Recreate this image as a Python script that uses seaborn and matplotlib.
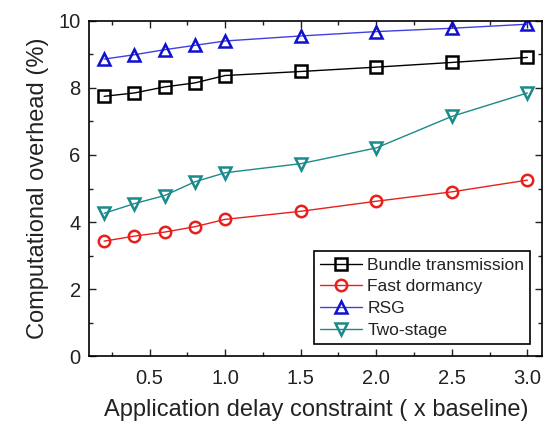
import matplotlib
matplotlib.use("Agg")
import matplotlib.pyplot as plt
import seaborn as sns
import pandas as pd
from matplotlib.ticker import MultipleLocator

delay = [0.2, 0.4, 0.6, 0.8, 1.0, 1.5, 2.0, 2.5, 3.0]
bundle = [7.75, 7.85, 8.03, 8.15, 8.37, 8.49, 8.62, 8.76, 8.91]
fast_dormancy = [3.43, 3.58, 3.70, 3.86, 4.08, 4.32, 4.62, 4.90, 5.25]
rsg = [8.86, 8.99, 9.14, 9.27, 9.40, 9.55, 9.68, 9.78, 9.90]
two_stage = [4.26, 4.55, 4.79, 5.20, 5.47, 5.74, 6.21, 7.15, 7.85]

series_names = ["Bundle transmission", "Fast dormancy", "RSG", "Two-stage"]
series_vals = [bundle, fast_dormancy, rsg, two_stage]
colors = ["#000000", "#e8201c", "#1010d0", "#1a8a8a"]
line_colors = ["#000000", "#e8201c", "#4040e0", "#1a8a8a"]
markers = ["s", "o", "^", "v"]

sns.set_theme(style="ticks")
plt.rcParams['font.family'] = ['Liberation Sans', 'DejaVu Sans']

fig = plt.figure(figsize=(5.43, 4.26), dpi=100)
ax = fig.add_axes([0.164, 0.164, 0.835, 0.787])

for name, vals, c, lc, m in zip(series_names, series_vals, colors, line_colors, markers):
    df = pd.DataFrame({"x": delay, "y": vals})
    sns.lineplot(data=df, x="x", y="y", ax=ax, color=lc, lw=1.0,
                 marker=m, markersize=8.2, markerfacecolor="none",
                 markeredgecolor=c, markeredgewidth=1.8, label=name)

ax.set_xlim(0.1, 3.1)
ax.set_ylim(0, 10)
ax.xaxis.set_major_locator(MultipleLocator(0.5))
ax.xaxis.set_minor_locator(MultipleLocator(0.25))
ax.yaxis.set_major_locator(MultipleLocator(2))
ax.yaxis.set_minor_locator(MultipleLocator(1))
ax.set_xticks([0.5, 1.0, 1.5, 2.0, 2.5, 3.0])
ax.set_xticklabels(["0.5", "1.0", "1.5", "2.0", "2.5", "3.0"])
ax.tick_params(which="both", direction="in", top=True, right=True,
               labelsize=14.5, colors="#222222", width=1.0)
ax.tick_params(which="major", length=5)
ax.tick_params(which="minor", length=3)
ax.tick_params(axis="x", pad=9)
ax.tick_params(axis="y", pad=6)
for s in ax.spines.values():
    s.set_linewidth(1.2)
    s.set_color("black")

ax.set_xlabel("Application delay constraint ( x baseline)", fontsize=17,
              labelpad=8, color="#222222")
ax.set_ylabel("Computational overhead (%)", fontsize=17, labelpad=7,
              color="#222222")

leg = ax.legend(loc="lower right", fontsize=12.5, frameon=True, fancybox=False,
                edgecolor="black", framealpha=1, borderpad=0.35, labelspacing=0.38,
                handlelength=2.4, handletextpad=0.3, borderaxespad=0.7)
leg.get_frame().set_linewidth(1.2)
for t in leg.get_texts():
    t.set_color("#222222")

fig.savefig("out.png", dpi=100)
